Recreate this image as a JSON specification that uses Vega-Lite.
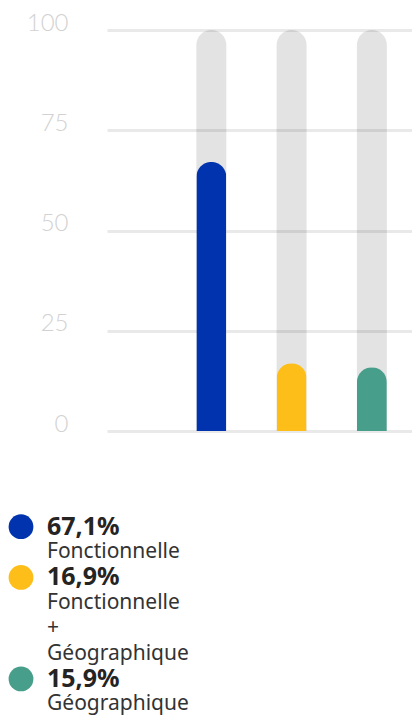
{
  "$schema": "https://vega.github.io/schema/vega-lite/v6.json",
  "description": "Répartition par type d'organisation",
  "background": "white",
  "padding": {"left": 7, "top": 11, "right": 0, "bottom": 0},
  "spacing": 78,
  "config": {"view": {"stroke": null}, "font": "Noto Sans"},
  "datasets": {
    "bars": [
      {"serie": "Fonctionnelle", "value": 67.1},
      {"serie": "Fonctionnelle + Géographique", "value": 16.9},
      {"serie": "Géographique", "value": 15.9}
    ],
    "legend": [
      {"line": 1, "kind": "value", "text": "67,1%", "serie": "Fonctionnelle"},
      {"line": 2, "kind": "label", "text": "Fonctionnelle"},
      {"line": 3, "kind": "value", "text": "16,9%", "serie": "Fonctionnelle + Géographique"},
      {"line": 4, "kind": "label", "text": "Fonctionnelle"},
      {"line": 5, "kind": "label", "text": "+"},
      {"line": 6, "kind": "label", "text": "Géographique"},
      {"line": 7, "kind": "value", "text": "15,9%", "serie": "Géographique"},
      {"line": 8, "kind": "label", "text": "Géographique"}
    ]
  },
  "vconcat": [
    {
      "width": 305,
      "height": 401,
      "data": {"name": "bars"},
      "encoding": {
        "x": {
          "field": "serie",
          "type": "nominal",
          "sort": null,
          "scale": {"paddingInner": 0, "paddingOuter": 0.4, "align": 1},
          "axis": null
        }
      },
      "layer": [
        {
          "mark": {"type": "bar", "width": 30, "cornerRadiusTopLeft": 15, "cornerRadiusTopRight": 15, "color": "#000000", "opacity": 0.11},
          "encoding": {"y": {"datum": 100, "type": "quantitative"}}
        },
        {
          "mark": {"type": "bar", "width": 30, "cornerRadiusTopLeft": 15, "cornerRadiusTopRight": 15},
          "encoding": {
            "y": {
              "field": "value",
              "type": "quantitative",
              "scale": {"domain": [0, 100]},
              "axis": {
                "values": [0, 25, 50, 75, 100],
                "title": null,
                "grid": true,
                "gridColor": "#e9e9e9",
                "gridWidth": 3,
                "domain": false,
                "ticks": false,
                "labelFont": "Lato",
                "labelFontSize": 24,
                "labelFontWeight": 300,
                "labelColor": "#d2d2d2",
                "labelPadding": 39,
                "labelOffset": -7,
                "minExtent": 100
              }
            },
            "color": {
              "field": "serie",
              "type": "nominal",
              "scale": {
                "domain": ["Fonctionnelle", "Fonctionnelle + Géographique", "Géographique"],
                "range": ["#0033ad", "#fdbe19", "#479e8a"]
              },
              "legend": null
            }
          }
        }
      ]
    },
    {
      "width": 28,
      "height": 203,
      "data": {"name": "legend"},
      "encoding": {
        "y": {"field": "line", "type": "ordinal", "axis": null, "scale": {"type": "point", "padding": 0.5}}
      },
      "layer": [
        {
          "transform": [{"filter": "datum.kind === 'value'"}],
          "mark": {"type": "point", "filled": true, "size": 615, "opacity": 1, "xOffset": -100},
          "encoding": {"color": {"field": "serie", "type": "nominal", "legend": null}}
        },
        {
          "transform": [{"filter": "datum.kind === 'value'"}],
          "mark": {"type": "text", "align": "left", "baseline": "middle", "dx": -74, "font": "Noto Sans", "fontSize": 25, "fontWeight": "bold", "color": "#252423"},
          "encoding": {"text": {"field": "text"}}
        },
        {
          "transform": [{"filter": "datum.kind === 'label'"}],
          "mark": {"type": "text", "align": "left", "baseline": "middle", "dx": -74, "font": "Noto Sans", "fontSize": 21, "color": "#333333"},
          "encoding": {"text": {"field": "text"}}
        }
      ]
    }
  ]
}
